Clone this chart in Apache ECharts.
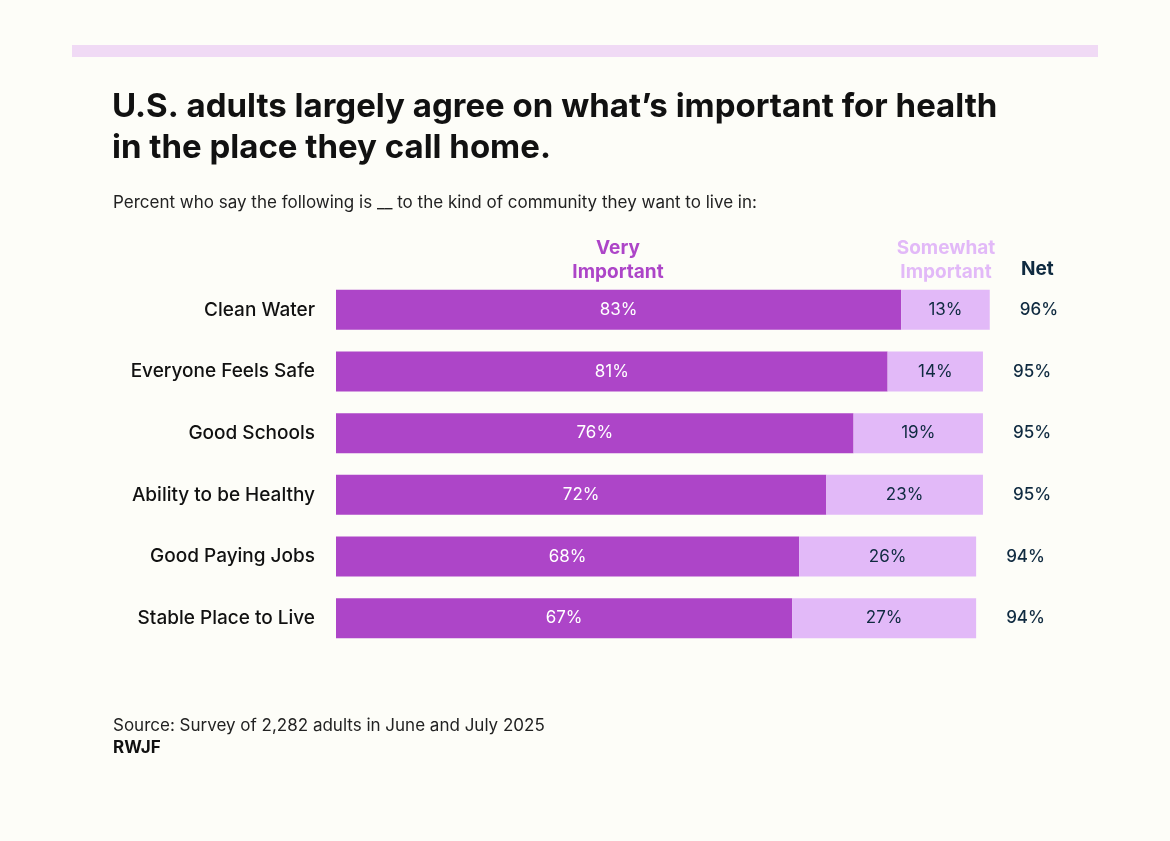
<!DOCTYPE html>
<html>
<head>
<meta charset="utf-8">
<script src="https://cdn.jsdelivr.net/npm/echarts@6/dist/echarts.min.js"></script>
<style>
  html, body { margin: 0; padding: 0; background: #fdfdf8; }
  #chart { width: 1170px; height: 841px; }
</style>
</head>
<body>
<div id="chart"></div>
<script>
// data
const categories = ['Clean Water', 'Everyone Feels Safe', 'Good Schools', 'Ability to be Healthy', 'Good Paying Jobs', 'Stable Place to Live'];
const veryImportant = [83, 81, 76, 72, 68, 67];
const somewhatImportant = [13, 14, 19, 23, 26, 27];
const net = [96, 95, 95, 95, 94, 94];

const font = 'Inter, "Noto Sans", sans-serif';
const purple = '#ad45c8';
const lilac = '#e2b9f8';
const navy = '#0f2a40';

let myChart = echarts.init(document.getElementById('chart'));

let option = {
  backgroundColor: '#fdfdf8',
  textStyle: { fontFamily: font },
  animation: false,
  graphic: [
    // band at the top
    { type: 'rect', left: 72, top: 45, shape: { width: 1026, height: 12 }, style: { fill: '#f0daf5' } },
    {
      type: 'text', left: 112, top: 87,
      style: {
        text: 'U.S. adults largely agree on what’s important for health\nin the place they call home.',
        font: 'bold 33px ' + font, fill: '#111', lineHeight: 41
      }
    },
    {
      type: 'text', left: 113, top: 194,
      style: { text: 'Percent who say the following is __ to the kind of community they want to live in:', font: '17px ' + font, fill: '#222' }
    },
    {
      type: 'text',
      style: { x: 618, y: 236, text: 'Very\nImportant', font: 'bold 19px ' + font, fill: purple, textAlign: 'center', lineHeight: 24 }
    },
    {
      type: 'text',
      style: { x: 946, y: 236, text: 'Somewhat\nImportant', font: 'bold 19px ' + font, fill: lilac, textAlign: 'center', lineHeight: 24 }
    },
    {
      type: 'text', left: 1021, top: 260,
      style: { text: 'Net', font: 'bold 19px ' + font, fill: navy }
    },
    {
      type: 'text', left: 113, top: 717,
      style: { text: 'Source: Survey of 2,282 adults in June and July 2025', font: '17px ' + font, fill: '#222' }
    },
    {
      type: 'text', left: 113, top: 739,
      style: { text: 'RWJF', font: 'bold 17px ' + font, fill: '#111' }
    }
  ],
  grid: { left: 336, right: 153, top: 279, bottom: 192 },
  xAxis: { type: 'value', min: 0, max: 100, show: false },
  yAxis: {
    type: 'category',
    data: categories,
    inverse: true,
    axisLine: { show: false },
    axisTick: { show: false },
    axisLabel: { fontSize: 19, fontWeight: 500, color: '#111', margin: 21, fontFamily: font }
  },
  series: [
    {
      name: 'Net',
      type: 'bar',
      data: net,
      barWidth: 40,
      barGap: '-100%',
      itemStyle: { color: 'rgba(0,0,0,0)' },
      label: { show: true, position: 'right', distance: 30, formatter: '{c}%', fontSize: 17, fontWeight: 500, color: navy, fontFamily: font },
      silent: true,
      z: 1
    },
    {
      name: 'Very Important',
      type: 'bar',
      stack: 'total',
      data: veryImportant,
      barWidth: 40,
      itemStyle: { color: purple },
      label: { show: true, position: 'inside', formatter: '{c}%', fontSize: 17, color: '#fff', fontFamily: font },
      z: 2
    },
    {
      name: 'Somewhat Important',
      type: 'bar',
      stack: 'total',
      data: somewhatImportant,
      barWidth: 40,
      itemStyle: { color: lilac },
      label: { show: true, position: 'inside', formatter: '{c}%', fontSize: 17, color: navy, fontFamily: font },
      z: 2
    }
  ]
};

myChart.setOption(option);
</script>
</body>
</html>
